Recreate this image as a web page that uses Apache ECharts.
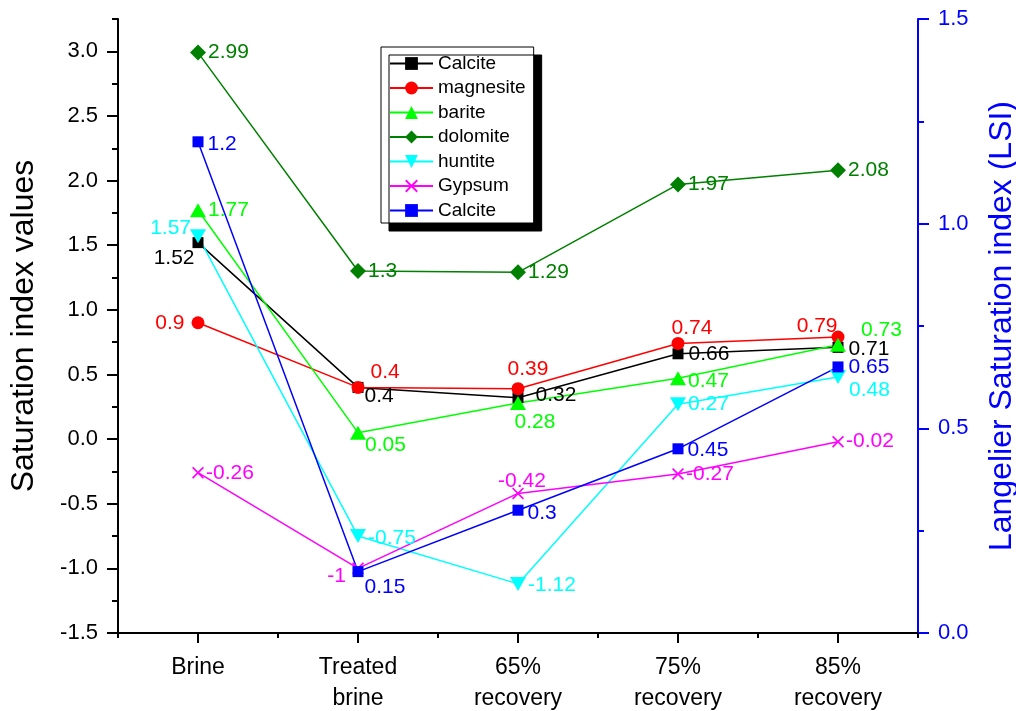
<!DOCTYPE html>
<html>
<head>
<meta charset="utf-8">
<title>Saturation index</title>
<script src="https://cdn.jsdelivr.net/npm/echarts@6/dist/echarts.min.js"></script>
<style>
  html, body { margin: 0; padding: 0; background: #ffffff; }
  #chart { width: 1016px; height: 711px; }
</style>
</head>
<body>
<div id="chart"></div>
<script>
// Process stages along the x axis
const categories = ['Brine', 'Treated\nbrine', '65%\nrecovery', '75%\nrecovery', '85%\nrecovery'];

// Saturation index values (left axis)
const calcite   = [1.52, 0.4, 0.32, 0.66, 0.71];
const magnesite = [0.9, 0.4, 0.39, 0.74, 0.79];
const barite    = [1.77, 0.05, 0.28, 0.47, 0.73];
const dolomite  = [2.99, 1.3, 1.29, 1.97, 2.08];
const huntite   = [1.57, -0.75, -1.12, 0.27, 0.48];
const gypsum    = [-0.26, -1, -0.42, -0.27, -0.02];

// Langelier Saturation index of calcite (right axis)
const calciteLSI = [1.2, 0.15, 0.3, 0.45, 0.65];

// Axis tick values
const leftTicks  = [-1.5, -1.0, -0.5, 0.0, 0.5, 1.0, 1.5, 2.0, 2.5, 3.0];
const rightTicks = [0.0, 0.5, 1.0, 1.5];

const FONT = "'Liberation Sans', Arial, Helvetica, sans-serif";

// Where each point's value label sits: [side, dx, dy]
const labelPlacement = {
  calcite:   [['l', 4, 16], ['r', -1, 9], ['r', 10, -3], ['r', 3, 0], ['r', 3, 2]],
  magnesite: [['l', -5, 0], ['r', 4, -15], ['t', 10, 0], ['t', 14, 4], ['l', 8, -11]],
  barite:    [['r', 0, 0], ['r', -3, 13], ['b', 17, 0], ['r', 0, 3], ['r', 13, -15]],
  dolomite:  [['r', 0, 0], ['r', 0, 0], ['r', 0, 0], ['r', 0, 0], ['r', 0, 0]],
  huntite:   [['l', 3, -8], ['r', 0, 2], ['r', 0, 1], ['r', 0, 0], ['r', 1, 13]],
  gypsum:    [['r', 0, 0], ['l', -4, 8], ['t', 4, 6], ['r', 0, 0], ['r', 0, 0]],
  calciteLSI:[['r', 2, 2], ['r', -1, 16], ['r', 2, 3], ['r', 2, 1], ['r', 3, 0]]
};

const SIDE = { r: 'right', l: 'left', t: 'top', b: 'bottom' };

function pointsWithLabels(values, placement, color) {
  return values.map((v, i) => {
    const p = placement[i];
    return {
      value: v,
      label: {
        show: true,
        position: SIDE[p[0]],
        distance: 2,
        offset: [p[1], p[2]],
        color: color,
        fontSize: 21,
        fontFamily: FONT,
        formatter: String(v)
      }
    };
  });
}

const downTriangle = 'path://M0,0L16,0L8,14Z';
const crossMark = 'path://M0,1.2L1.2,0L12,10.8L10.8,12Z M10.8,0L12,1.2L1.2,12L0,10.8Z';

function lineSeries(name, values, placement, color, symbol, size, yAxisIndex) {
  return {
    name: name,
    type: 'line',
    yAxisIndex: yAxisIndex || 0,
    data: pointsWithLabels(values, placement, color),
    symbol: symbol,
    symbolSize: size,
    showAllSymbol: true,
    color: color,
    itemStyle: { color: color, opacity: 1 },
    lineStyle: { color: color, width: 1.5 },
    emphasis: { disabled: true },
    animation: false
  };
}

const chart = echarts.init(document.getElementById('chart'), null, { renderer: 'canvas' });

const option = {
  backgroundColor: '#ffffff',
  animation: false,
  textStyle: { fontFamily: FONT },
  grid: { left: 118, right: 98, top: 19, bottom: 78, containLabel: false, outerBoundsMode: 'none' },
  legend: {
    orient: 'vertical',
    left: 381,
    top: 47,
    padding: [7, 8, 3, 8],
    itemWidth: 43,
    itemHeight: 16,
    itemGap: 5.5,
    backgroundColor: '#ffffff',
    borderColor: '#000000',
    borderWidth: 1,
    borderRadius: 0,
    shadowColor: '#000000',
    shadowBlur: 0,
    shadowOffsetX: 8,
    shadowOffsetY: 8,
    textStyle: { fontSize: 19, color: '#000000', fontFamily: FONT, padding: [0, 0, 0, 0] },
    selectedMode: false
  },
  xAxis: [
    {
      type: 'category',
      data: categories,
      boundaryGap: true,
      position: 'bottom',
      axisLine: { show: true, onZero: false, lineStyle: { color: '#000000', width: 2 } },
      axisTick: { show: true, alignWithLabel: true, length: 10, lineStyle: { color: '#000000', width: 2 } },
      axisLabel: { color: '#000000', fontSize: 23, fontFamily: FONT, margin: 19, lineHeight: 31, interval: 0 },
      splitLine: { show: false }
    },
    {
      // short ticks on the category boundaries
      type: 'category',
      data: categories,
      boundaryGap: true,
      position: 'bottom',
      axisLine: { show: false, onZero: false },
      axisTick: { show: true, alignWithLabel: false, length: 5, interval: 0, lineStyle: { color: '#000000', width: 2 } },
      axisLabel: { show: false },
      splitLine: { show: false }
    }
  ],
  yAxis: [
    {
      type: 'value',
      position: 'left',
      min: -1.5,
      max: 3.25,
      interval: 0.25,
      name: 'Saturation index values',
      nameLocation: 'middle',
      nameRotate: 90,
      nameGap: 78,
      nameTextStyle: { fontSize: 32, color: '#000000', fontFamily: FONT },
      axisLine: { show: true, onZero: false, lineStyle: { color: '#000000', width: 2 } },
      axisTick: { show: true, length: 11, customValues: leftTicks, lineStyle: { color: '#000000', width: 2 } },
      axisLabel: {
        color: '#000000', fontSize: 22, fontFamily: FONT, margin: 20,
        customValues: leftTicks,
        formatter: v => v.toFixed(1)
      },
      splitLine: { show: false }
    },
    {
      type: 'value',
      position: 'right',
      min: 0,
      max: 1.5,
      interval: 0.5,
      name: 'Langelier Saturation index (LSI)',
      nameLocation: 'middle',
      nameRotate: 90,
      nameGap: 68,
      nameTextStyle: { fontSize: 32, color: '#0000FF', fontFamily: FONT },
      axisLine: { show: true, onZero: false, lineStyle: { color: '#0000FF', width: 2 } },
      axisTick: { show: true, length: 11, lineStyle: { color: '#0000FF', width: 2 } },
      minorTick: { show: true, splitNumber: 2, length: 6, lineStyle: { color: '#0000FF', width: 2 } },
      axisLabel: {
        color: '#0000FF', fontSize: 22, fontFamily: FONT, margin: 20,
        customValues: rightTicks,
        formatter: v => v.toFixed(1)
      },
      splitLine: { show: false },
      minorSplitLine: { show: false }
    },
    {
      // quarter-step minor ticks for the left axis
      type: 'value',
      position: 'left',
      min: -1.5,
      max: 3.25,
      interval: 0.25,
      axisLine: { show: false, onZero: false },
      axisTick: { show: true, length: 6, lineStyle: { color: '#000000', width: 2 } },
      axisLabel: { show: false },
      splitLine: { show: false }
    }
  ],
  series: [
    lineSeries('Calcite', calcite, labelPlacement.calcite, '#000000', 'rect', 11),
    lineSeries('magnesite', magnesite, labelPlacement.magnesite, '#FF0000', 'circle', 13),
    lineSeries('barite', barite, labelPlacement.barite, '#00FF00', 'triangle', [16, 14]),
    lineSeries('dolomite', dolomite, labelPlacement.dolomite, '#008000', 'diamond', 16),
    lineSeries('huntite', huntite, labelPlacement.huntite, '#00FFFF', downTriangle, [16, 14]),
    lineSeries('Gypsum', gypsum, labelPlacement.gypsum, '#FF00FF', crossMark, 12),
    lineSeries('Calcite ', calciteLSI, labelPlacement.calciteLSI, '#0000FF', 'rect', 11, 1)
  ]
};

// the second "Calcite" entry is shown with the same text in the legend
option.legend.formatter = name => name.trim();

chart.setOption(option);
</script>
</body>
</html>
